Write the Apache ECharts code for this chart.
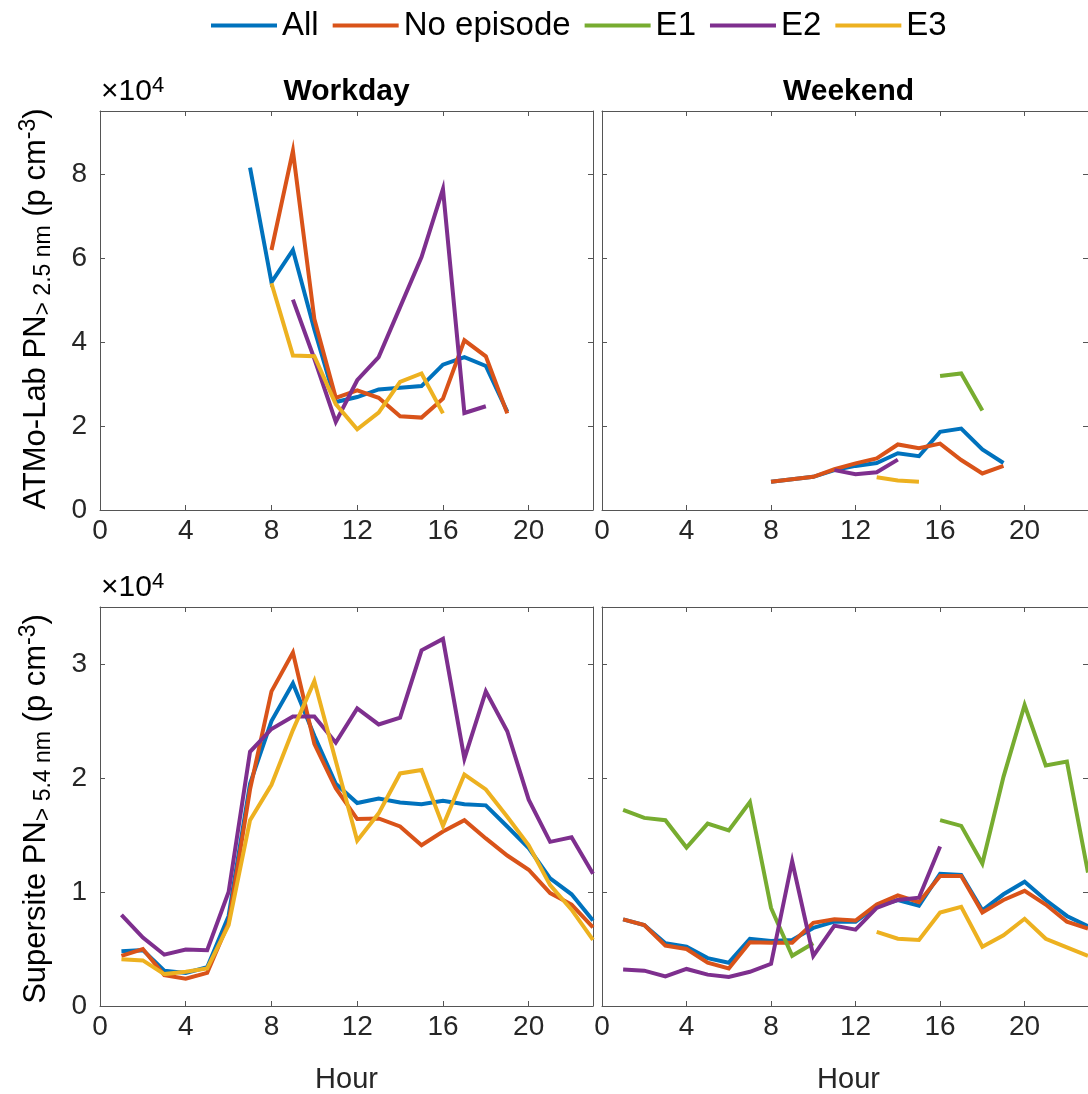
<!DOCTYPE html>
<html><head><meta charset="utf-8">
<script src="https://cdn.jsdelivr.net/npm/echarts@6/dist/echarts.min.js"></script>
<style>html,body{margin:0;padding:0;background:#fff}#c{width:1088px;height:1094px}</style>
</head><body><div id="c"></div>
<script>
// ---------- data ----------
const HOURS = [1,2,3,4,5,6,7,8,9,10,11,12,13,14,15,16,17,18,19,20,21,22,23];
const SERIES_NAMES = ['All', 'No episode', 'E1', 'E2', 'E3'];
const X_TICKS = [0, 4, 8, 12, 16, 20];
const Y_TICKS_LAB = [0, 20000, 40000, 60000, 80000];
const Y_TICKS_SUP = [0, 10000, 20000, 30000];
const PANEL_TITLES = ['Workday', 'Weekend'];

// ATMo-Lab, workday
const labWorkdayAll  = [null,null,null,null,null,null,81500,54200,61900,43000,25700,26900,28700,29100,29500,34600,36400,34300,23400,null,null,null,null];
const labWorkdayNoEp = [null,null,null,null,null,null,null,61900,85500,45500,26700,28500,26700,22300,22000,26500,40400,36600,23000,null,null,null,null];
const labWorkdayE1   = [null,null,null,null,null,null,null,null,null,null,null,null,null,null,null,null,null,null,null,null,null,null,null];
const labWorkdayE2   = [null,null,null,null,null,null,null,null,50100,36000,21000,30900,36400,48300,60200,76400,23100,24700,null,null,null,null,null];
const labWorkdayE3   = [null,null,null,null,null,null,null,54000,36800,36600,25200,19200,23200,30500,32500,23000,null,null,null,null,null,null,null];

// ATMo-Lab, weekend
const labWeekendAll  = [null,null,null,null,null,null,null,6700,7300,7900,9500,10500,11200,13500,12800,18600,19400,14400,11200,null,null,null,null];
const labWeekendNoEp = [null,null,null,null,null,null,null,6700,7300,7900,9700,11100,12300,15600,14700,15800,11900,8700,10500,null,null,null,null];
const labWeekendE1   = [null,null,null,null,null,null,null,null,null,null,null,null,null,null,null,31900,32500,23700,null,null,null,null,null];
const labWeekendE2   = [null,null,null,null,null,null,null,null,null,null,9500,8500,9000,12000,null,null,null,null,null,null,null,null,null];
const labWeekendE3   = [null,null,null,null,null,null,null,null,null,null,null,null,7800,7000,6700,null,null,null,null,null,null,null,null];

// Supersite, workday
const supWorkdayAll  = [4800,4900,3100,2900,3400,7900,19500,25000,28300,23700,19500,17800,18200,17850,17700,18000,17700,17600,15750,13850,11200,9800,7500];
const supWorkdayNoEp = [4400,5000,2700,2400,2900,7300,19000,27600,31000,23000,19100,16400,16450,15750,14100,15300,16300,14700,13200,11950,9900,8900,6900];
const supWorkdayE1   = [null,null,null,null,null,null,null,null,null,null,null,null,null,null,null,null,null,null,null,null,null,null,null];
const supWorkdayE2   = [8000,6000,4500,4950,4900,10000,22300,24300,25400,25400,23100,26100,24700,25300,31200,32200,21700,27600,24100,18100,14400,14800,11600];
const supWorkdayE3   = [4100,4000,2800,3000,3300,7100,16300,19400,24200,28500,21500,14500,16900,20400,20700,15800,20300,19000,16600,14100,10600,8450,5800];

// Supersite, weekend
const supWeekendAll  = [7600,7100,5500,5200,4200,3800,5900,5700,5800,6850,7400,7400,8750,9300,8800,11600,11500,8400,9800,10900,9300,7900,7000];
const supWeekendNoEp = [7600,7100,5300,5000,3800,3300,5600,5550,5550,7300,7600,7500,8900,9700,9100,11400,11400,8200,9300,10100,8900,7400,6800];
const supWeekendE1   = [17200,16500,16300,13900,16000,15400,17900,8600,4400,5500,null,null,null,null,null,16300,15800,12500,20100,26400,21100,21450,11700];
const supWeekendE2   = [3200,3100,2600,3250,2750,2550,3000,3700,12700,4400,7050,6700,8600,9300,9500,14000,null,null,null,null,null,null,null];
const supWeekendE3   = [null,null,null,null,null,null,null,null,null,null,null,null,6500,5900,5800,8200,8700,5200,6200,7650,5900,5150,4400];

// ---------- chart ----------
const COLORS = ['#0072BD', '#D95319', '#77AC30', '#7E2F8E', '#EDB120'];
const FONT = "'Liberation Sans', Arial, Helvetica, sans-serif";
const AXIS_COLOR = '#555555';
const TEXT_COLOR = '#262626';

const panels = [
  { grid: { left: 100, top: 111, width: 493, height: 399 }, ymax: 95000, yint: 20000, ylabels: true,  sets: [labWorkdayAll, labWorkdayNoEp, labWorkdayE1, labWorkdayE2, labWorkdayE3] },
  { grid: { left: 602, top: 111, width: 493, height: 399 }, ymax: 95000, yint: 20000, ylabels: false, sets: [labWeekendAll, labWeekendNoEp, labWeekendE1, labWeekendE2, labWeekendE3] },
  { grid: { left: 100, top: 607, width: 493, height: 399 }, ymax: 35000, yint: 10000, ylabels: true,  sets: [supWorkdayAll, supWorkdayNoEp, supWorkdayE1, supWorkdayE2, supWorkdayE3] },
  { grid: { left: 602, top: 607, width: 493, height: 399 }, ymax: 35000, yint: 10000, ylabels: false, sets: [supWeekendAll, supWeekendNoEp, supWeekendE1, supWeekendE2, supWeekendE3] }
];

const grids = [], xAxes = [], yAxes = [], series = [];
const axisLine = { show: true, onZero: false, lineStyle: { color: AXIS_COLOR, width: 1 } };
const axisTick = { show: true, inside: true, length: 5, lineStyle: { color: AXIS_COLOR, width: 1 } };

panels.forEach((p, i) => {
  grids.push(Object.assign({ containLabel: false }, p.grid));
  xAxes.push({
    type: 'value', gridIndex: i, position: 'bottom', min: 0, max: 23, interval: 4,
    axisLine, axisTick, splitLine: { show: false },
    axisLabel: { show: true, margin: 7, color: TEXT_COLOR, fontSize: 28, fontFamily: FONT, showMaxLabel: false,
      formatter: v => (X_TICKS.indexOf(v) >= 0 ? String(v) : '') }
  });
  xAxes.push({
    type: 'value', gridIndex: i, position: 'top', min: 0, max: 23, interval: 4,
    axisLine, axisTick, splitLine: { show: false }, axisLabel: { show: false }
  });
  const yt = i < 2 ? Y_TICKS_LAB : Y_TICKS_SUP;
  yAxes.push({
    type: 'value', gridIndex: i, position: 'left', min: 0, max: p.ymax, interval: p.yint,
    axisLine, axisTick, splitLine: { show: false },
    axisLabel: { show: p.ylabels, margin: 13, color: TEXT_COLOR, fontSize: 28, fontFamily: FONT, showMaxLabel: false,
      formatter: v => (yt.indexOf(v) >= 0 ? String(v / 10000) : '') }
  });
  yAxes.push({
    type: 'value', gridIndex: i, position: 'right', min: 0, max: p.ymax, interval: p.yint,
    axisLine, axisTick, splitLine: { show: false }, axisLabel: { show: false }
  });
  p.sets.forEach((vals, k) => {
    series.push({
      name: SERIES_NAMES[k], type: 'line', xAxisIndex: i * 2, yAxisIndex: i * 2,
      data: HOURS.map((h, j) => [h, vals[j]]),
      showSymbol: false, symbol: 'none', connectNulls: false, smooth: false,
      lineStyle: { color: COLORS[k], width: 4, cap: 'butt', join: 'miter' },
      itemStyle: { color: COLORS[k] },
      z: 2 + k, silent: true, animation: false
    });
  });
});

const yNameRich = {
  n: { fontSize: 31, fontFamily: FONT, color: TEXT_COLOR, lineHeight: 38, verticalAlign: 'middle' },
  sub: { fontSize: 23, fontFamily: FONT, color: TEXT_COLOR, lineHeight: 16, verticalAlign: 'bottom' },
  sup: { fontSize: 23, fontFamily: FONT, color: TEXT_COLOR, lineHeight: 16, verticalAlign: 'top' }
};
const expRich = {
  x: { fontSize: 30, fontFamily: FONT, color: '#555', lineHeight: 32, verticalAlign: 'bottom' },
  n: { fontSize: 30, fontFamily: FONT, color: TEXT_COLOR, lineHeight: 32, verticalAlign: 'bottom' },
  sup: { fontSize: 22, fontFamily: FONT, color: TEXT_COLOR, lineHeight: 16, verticalAlign: 'top' }
};

const graphic = [
  { type: 'text', x: 346.5, y: 92, style: { text: PANEL_TITLES[0], font: "bold 30px " + FONT, fill: '#000', align: 'center', verticalAlign: 'middle' } },
  { type: 'text', x: 848.5, y: 92, style: { text: PANEL_TITLES[1], font: "bold 30px " + FONT, fill: '#000', align: 'center', verticalAlign: 'middle' } },
  { type: 'text', x: 346.5, y: 1080, style: { text: 'Hour', font: "29px " + FONT, fill: TEXT_COLOR, align: 'center', verticalAlign: 'middle' } },
  { type: 'text', x: 848.5, y: 1080, style: { text: 'Hour', font: "29px " + FONT, fill: TEXT_COLOR, align: 'center', verticalAlign: 'middle' } },
  { type: 'text', x: 101, y: 107, style: { text: '{x|×}{n|10}{sup|4}', rich: expRich, align: 'left', verticalAlign: 'bottom' } },
  { type: 'text', x: 101, y: 603, style: { text: '{x|×}{n|10}{sup|4}', rich: expRich, align: 'left', verticalAlign: 'bottom' } },
  { type: 'text', x: 36, y: 309, rotation: Math.PI / 2,
    style: { text: '{n|ATMo-Lab PN}{sub|> 2.5 nm}{n| (p cm}{sup|-3}{n|)}', rich: yNameRich, align: 'center', verticalAlign: 'middle' } },
  { type: 'text', x: 36, y: 809, rotation: Math.PI / 2,
    style: { text: '{n|Supersite PN}{sub|> 5.4 nm}{n| (p cm}{sup|-3}{n|)}', rich: yNameRich, align: 'center', verticalAlign: 'middle' } }
];

const chart = echarts.init(document.getElementById('c'), null, { renderer: 'canvas' });
chart.setOption({
  animation: false,
  backgroundColor: '#ffffff',
  legend: {
    data: SERIES_NAMES, left: 206, top: 4, icon: 'rect', itemWidth: 66, itemHeight: 4, itemGap: 14,
    textStyle: { fontSize: 33, fontFamily: FONT, color: '#000' },
    selectedMode: false
  },
  grid: grids, xAxis: xAxes, yAxis: yAxes, series, graphic
});
</script></body></html>
